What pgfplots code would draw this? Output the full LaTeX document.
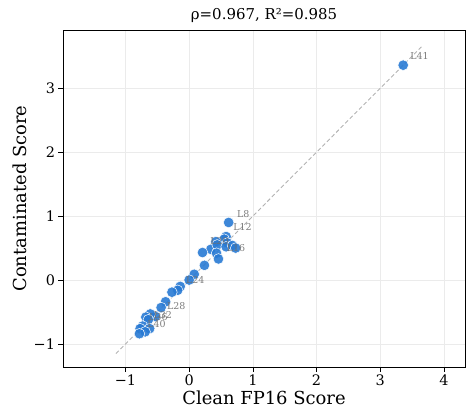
\documentclass[border=0pt]{standalone}
\usepackage{fontspec}
\setmainfont{DejaVu Serif}
\usepackage{pgfplots}
\pgfplotsset{compat=1.18}
\definecolor{ptblue}{RGB}{40,122,212}
\definecolor{gridgray}{RGB}{235,235,235}
\definecolor{lblgray}{RGB}{110,110,110}
\begin{document}
\begin{tikzpicture}
\begin{axis}[
  scale only axis,
  width=402bp, height=337bp,
  xmin=-1.98, xmax=4.33,
  ymin=-1.36, ymax=3.91,
  xtick={-1,0,1,2,3,4},
  xticklabels={−1,0,1,2,3,4},
  ytick={-1,0,1,2,3},
  yticklabels={−1,0,1,2,3},
  tick align=outside,
  tick pos=left,
  major tick length=4.5bp,
  tick style={black, line width=0.7pt},
  axis line style={black, line width=0.8pt},
  grid=major,
  grid style={gridgray, line width=0.6pt},
  ticklabel style={font=\fontsize{14.5}{16}\selectfont},
  xlabel={Clean FP16 Score},
  ylabel={Contaminated Score},
  label style={font=\fontsize{18}{20}\selectfont},
  xlabel style={yshift=2bp},
  title={ρ=0.967, R²=0.985},
  title style={font=\fontsize{15}{17}\selectfont, yshift=-2bp},
  clip=false,
]
\addplot[color=black!30, line width=0.9pt, dash pattern=on 4bp off 2.5bp]
  coordinates {(-1.15,-1.15) (3.65,3.65)};
\addplot[only marks, mark=*, mark size=5.3bp,
  mark options={fill=ptblue, draw=white, line width=0.5pt, fill opacity=0.9}]
  coordinates {
  (0.62,0.90) (0.58,0.68) (0.55,0.64) (0.60,0.58) (0.42,0.60)
  (0.34,0.48) (0.21,0.43) (0.44,0.55) (0.43,0.42) (0.46,0.33)
  (0.58,0.52) (0.68,0.54) (0.73,0.50) (0.24,0.23) (0.08,0.09)
  (0.00,0.00) (-0.14,-0.10) (-0.18,-0.16) (-0.27,-0.19) (-0.37,-0.34)
  (-0.44,-0.43) (-0.53,-0.57) (-0.61,-0.53) (-0.68,-0.58) (-0.64,-0.62)
  (-0.73,-0.72) (-0.62,-0.76) (-0.77,-0.76) (-0.69,-0.81) (-0.78,-0.84)
  (3.36,3.36)
  };
\addplot[draw=none, mark=none,
  nodes near coords={\pgfplotspointmeta},
  point meta=explicit symbolic,
  every node near coord/.append style={anchor=base west, inner sep=0pt,
     text=lblgray, font=\fontsize{9.5}{11}\selectfont, text opacity=0.9}]
  coordinates {
  (0.75,0.98) [L8]
  (0.69,0.78) [L12]
  (0.33,0.55) [L20]
  (0.59,0.44) [L16]
  (-0.05,-0.06) [L24]
  (-0.35,-0.46) [L28]
  (-0.56,-0.60) [L32]
  (-0.63,-0.63) [L36]
  (-0.66,-0.75) [L40]
  (3.47,3.45) [L41]
  };
\end{axis}
\pgfresetboundingbox
\path[use as bounding box] ([xshift=-63bp,yshift=-46bp]current axis.south west) rectangle ([xshift=1bp,yshift=30bp]current axis.north east);
\end{tikzpicture}
\end{document}
